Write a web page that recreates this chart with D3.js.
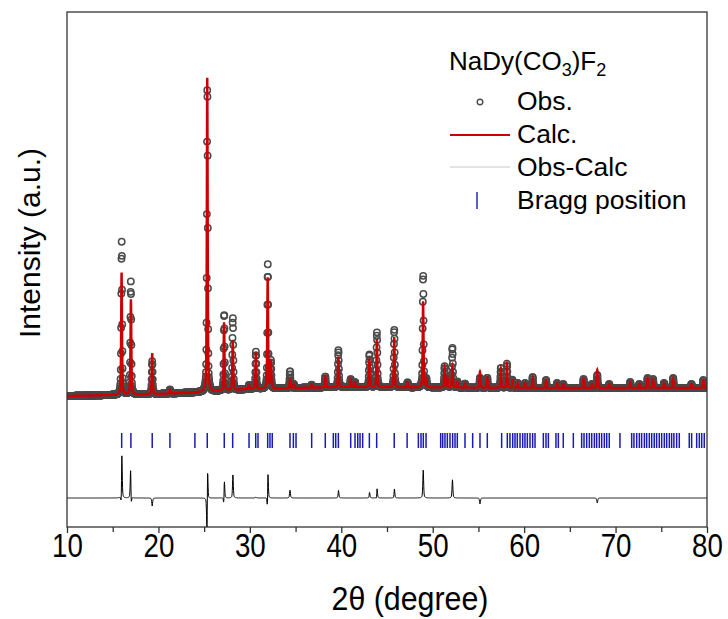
<!DOCTYPE html>
<html>
<head>
<meta charset="utf-8">
<title>NaDy(CO3)F2 refinement</title>
<script src="https://d3js.org/d3.v7.min.js"></script>
<style>
  body { margin: 0; background: #fff; }
  svg text { font-family: "Liberation Sans", Arial, sans-serif; fill: #000; }
</style>
</head>
<body>
<script>
// background level of the pattern
var bgPos = [10, 20, 25, 30, 40, 60, 80];
var bgVal = [131, 133, 135, 138, 140, 139, 139];

// reflections: 2theta, calc height, obs height, obs shift
var peakPos   = [15.97, 16.99, 19.32, 21.26, 25.34, 27.18, 28.13, 29.91, 30.66, 31.95, 32.3, 34.39, 34.8, 36.76, 38.25, 39.68, 41.03, 41.5, 43.07, 43.89, 45.79, 47.25, 48.95, 49.3, 51.3, 51.6, 52.15, 52.7, 53.53, 55.17, 55.97, 57.45, 58.12, 58.72, 59.3, 60.1, 60.93, 62.4, 63.6, 64.28, 66.5, 67.4, 68.0, 69.3, 71.6, 72.6, 73.5, 74.1, 75.3, 76.3, 78.3, 79.6];
var peakCalc  = [122, 95, 41, 4, 314, 68, 50, 4, 36, 111, 27, 9, 4, 3, 11, 30, 8, 5, 28, 48, 50, 5, 86, 8, 21, 10, 22, 6, 4, 16, 10, 20, 24, 8, 5, 5, 11, 8, 5, 4, 9, 4, 18, 4, 6, 4, 10, 9, 5, 10, 4, 8];
var peakObs   = [153, 113, 33, 4, 307, 77, 72, 4, 37, 124, 27, 17, 4, 3, 11, 37, 8, 5, 33, 55, 58, 5, 113, 8, 21, 10, 40, 6, 4, 10, 10, 20, 24, 8, 5, 5, 11, 8, 5, 4, 9, 4, 13, 4, 6, 4, 10, 9, 5, 10, 4, 8];
var peakShift = [0.011, -0.011, 0, 0, 0.008, 0.011, 0.006, 0, 0, 0.01, 0, 0, 0, 0, 0, 0.004, 0, 0, 0.004, 0.006, 0.004, 0, 0.003, 0, 0, 0, 0.004, 0, 0, 0, 0, 0, 0, 0, 0, 0, 0, 0, 0, 0, 0, 0, 0, 0, 0, 0, 0, 0, 0, 0, 0, 0];

// Bragg reflection positions
var bragg = [15.98, 16.99, 19.32, 21.26, 23.99, 25.34, 27.20, 28.12, 29.91, 30.64, 30.89, 31.95, 32.20, 32.45, 34.39, 34.76, 35.05, 36.76, 38.25, 39.13, 39.39, 39.68, 41.03, 41.50, 41.80, 42.05, 42.34, 43.07, 43.87, 45.79, 47.2, 48.43, 48.72, 48.97, 49.27, 50.87, 51.09, 51.34, 51.60, 51.89, 52.18, 52.44, 52.69, 53.53, 54.37, 55.17, 55.97, 57.54, 58.16, 58.45, 58.75, 59.00, 59.25, 59.55, 59.84, 60.09, 60.35, 60.64, 60.93, 61.19, 62.10, 62.39, 62.65, 63.48, 63.74, 64.28, 65.38, 66.29, 66.55, 66.84, 67.13, 67.39, 67.68, 67.93, 68.22, 68.48, 68.77, 69.03, 69.31, 70.48, 71.76, 72.01, 72.31, 72.60, 72.85, 73.15, 73.40, 73.69, 73.95, 74.23, 74.49, 74.78, 75.04, 75.33, 75.59, 75.88, 76.13, 76.38, 76.68, 76.97, 78.06, 78.32, 78.87, 79.16, 79.42, 79.70];

var xTicks = [10, 20, 30, 40, 50, 60, 70, 80];
var xMinor = [15, 25, 35, 45, 55, 65, 75];

var resBase = 29;               // level of the difference curve
var braggLo = 79, braggHi = 94; // band of the Bragg ticks

var W = 728, H = 619;
var padL = 67, padR = 707, padT = 12, padB = 527;

var x = d3.scaleLinear().domain([10, 80]).range([padL, padR]);
var y = d3.scaleLinear().domain([0, 515]).range([padB, padT]);
var bg = d3.scaleLinear().domain(bgPos).range(bgVal);

// pseudo-Voigt peak shape
var fwhm = 0.11, eta = 0.5;
function shape(d) {
  var t = d / fwhm;
  return (1 - eta) * Math.exp(-4 * Math.LN2 * t * t) + eta / (1 + 4 * t * t);
}
function profile(t, heights, shifted) {
  var v = bg(t);
  for (var i = 0; i < peakPos.length; i++) {
    var d = t - peakPos[i] - (shifted ? peakShift[i] : 0);
    if (Math.abs(d) < 3) v += heights[i] * shape(d);
  }
  return v;
}

var steps = d3.range(0, 3501).map(function(i) { return 10 + i * 0.02; });
var fine = d3.range(0, 14001).map(function(i) { return 10 + i * 0.005; });

var obs = steps.map(function(t) { return { t: t, v: profile(t, peakObs, true) }; });
var calc = fine.map(function(t) { return { t: t, v: profile(t, peakCalc, false) }; });
var diff = steps.map(function(t, i) { return { t: t, v: obs[i].v - profile(t, peakCalc, false) + resBase }; });

var svg = d3.select("body").append("svg")
  .attr("width", W)
  .attr("height", H);

svg.append("clipPath").attr("id", "plot")
  .append("rect")
  .attr("x", padL).attr("y", padT)
  .attr("width", padR - padL).attr("height", padB - padT);

var plot = svg.append("g").attr("clip-path", "url(#plot)");

// observed points
plot.append("g").selectAll("circle")
  .data(obs)
  .enter().append("circle")
  .attr("cx", function(d) { return x(d.t); })
  .attr("cy", function(d) { return y(d.v); })
  .attr("r", 3.2)
  .attr("fill", "none")
  .attr("stroke", "#4a4a4a")
  .attr("stroke-width", 1.5);

var line = d3.line()
  .x(function(d) { return x(d.t); })
  .y(function(d) { return y(d.v); });

plot.append("path")
  .datum(calc)
  .attr("d", line)
  .attr("fill", "none")
  .attr("stroke", "#cc0000")
  .attr("stroke-width", 2.4);

plot.append("g").selectAll("line")
  .data(bragg)
  .enter().append("line")
  .attr("x1", function(d) { return x(d); })
  .attr("x2", function(d) { return x(d); })
  .attr("y1", y(braggLo))
  .attr("y2", y(braggHi))
  .attr("stroke", "#1a1ab8")
  .attr("stroke-width", 1.5);

plot.append("path")
  .datum(diff)
  .attr("d", line)
  .attr("fill", "none")
  .attr("stroke", "#000")
  .attr("stroke-width", 1);

// frame
svg.append("rect")
  .attr("x", padL).attr("y", padT)
  .attr("width", padR - padL).attr("height", padB - padT)
  .attr("fill", "none")
  .attr("stroke", "#333")
  .attr("stroke-width", 1.3);

// x axis
var ax = svg.append("g")
  .attr("transform", "translate(0," + padB + ")")
  .call(d3.axisBottom(x).tickValues(xTicks).tickSize(6).tickFormat(d3.format("d")));
ax.select(".domain").remove();
ax.selectAll(".tick line").attr("stroke", "#333").attr("stroke-width", 1.3);
ax.selectAll(".tick text")
  .attr("y", 30)
  .attr("dy", 0)
  .attr("font-size", 33)
  .attr("font-family", "Liberation Sans, Arial, sans-serif")
  .attr("transform", "scale(0.84,1)");

var axm = svg.append("g")
  .attr("transform", "translate(0," + padB + ")")
  .call(d3.axisBottom(x).tickValues(xMinor).tickSize(5).tickFormat(""));
axm.select(".domain").remove();
axm.selectAll(".tick line").attr("stroke", "#333").attr("stroke-width", 1.3);

// axis titles
svg.append("text")
  .attr("transform", "translate(" + 410 + ",610) scale(0.92,1)")
  .attr("text-anchor", "middle")
  .attr("font-size", 33)
  .text("2\u03b8 (degree)");

svg.append("text")
  .attr("transform", "translate(40,243) rotate(-90)")
  .attr("text-anchor", "middle")
  .attr("font-size", 30)
  .text("Intensity (a.u.)");

// legend
var lg = svg.append("g");
var title = lg.append("text").attr("x", 449).attr("y", 70).attr("font-size", 26);
title.append("tspan").text("NaDy(CO");
title.append("tspan").attr("dy", 6).attr("font-size", 18).text("3");
title.append("tspan").attr("dy", -6).text(")F");
title.append("tspan").attr("dy", 6).attr("font-size", 18).text("2");

var rows = ["Obs.", "Calc.", "Obs-Calc", "Bragg position"];
var rowY = [110, 143, 176, 209];
lg.selectAll("text.row")
  .data(rows)
  .enter().append("text")
  .attr("class", "row")
  .attr("x", 517)
  .attr("y", function(d, i) { return rowY[i]; })
  .attr("font-size", 26.5)
  .text(function(d) { return d; });

lg.append("circle")
  .attr("cx", 480).attr("cy", rowY[0] - 8).attr("r", 2.8)
  .attr("fill", "none").attr("stroke", "#4a4a4a").attr("stroke-width", 1.4);
lg.append("line")
  .attr("x1", 450).attr("x2", 510).attr("y1", rowY[1] - 8).attr("y2", rowY[1] - 8)
  .attr("stroke", "#cc0000").attr("stroke-width", 2);
lg.append("line")
  .attr("x1", 450).attr("x2", 510).attr("y1", rowY[2] - 9).attr("y2", rowY[2] - 9)
  .attr("stroke", "#c8c8c8").attr("stroke-width", 1);
lg.append("line")
  .attr("x1", 477).attr("x2", 477).attr("y1", rowY[3] - 17).attr("y2", rowY[3])
  .attr("stroke", "#1a1ab8").attr("stroke-width", 1.4);
</script>
</body>
</html>
